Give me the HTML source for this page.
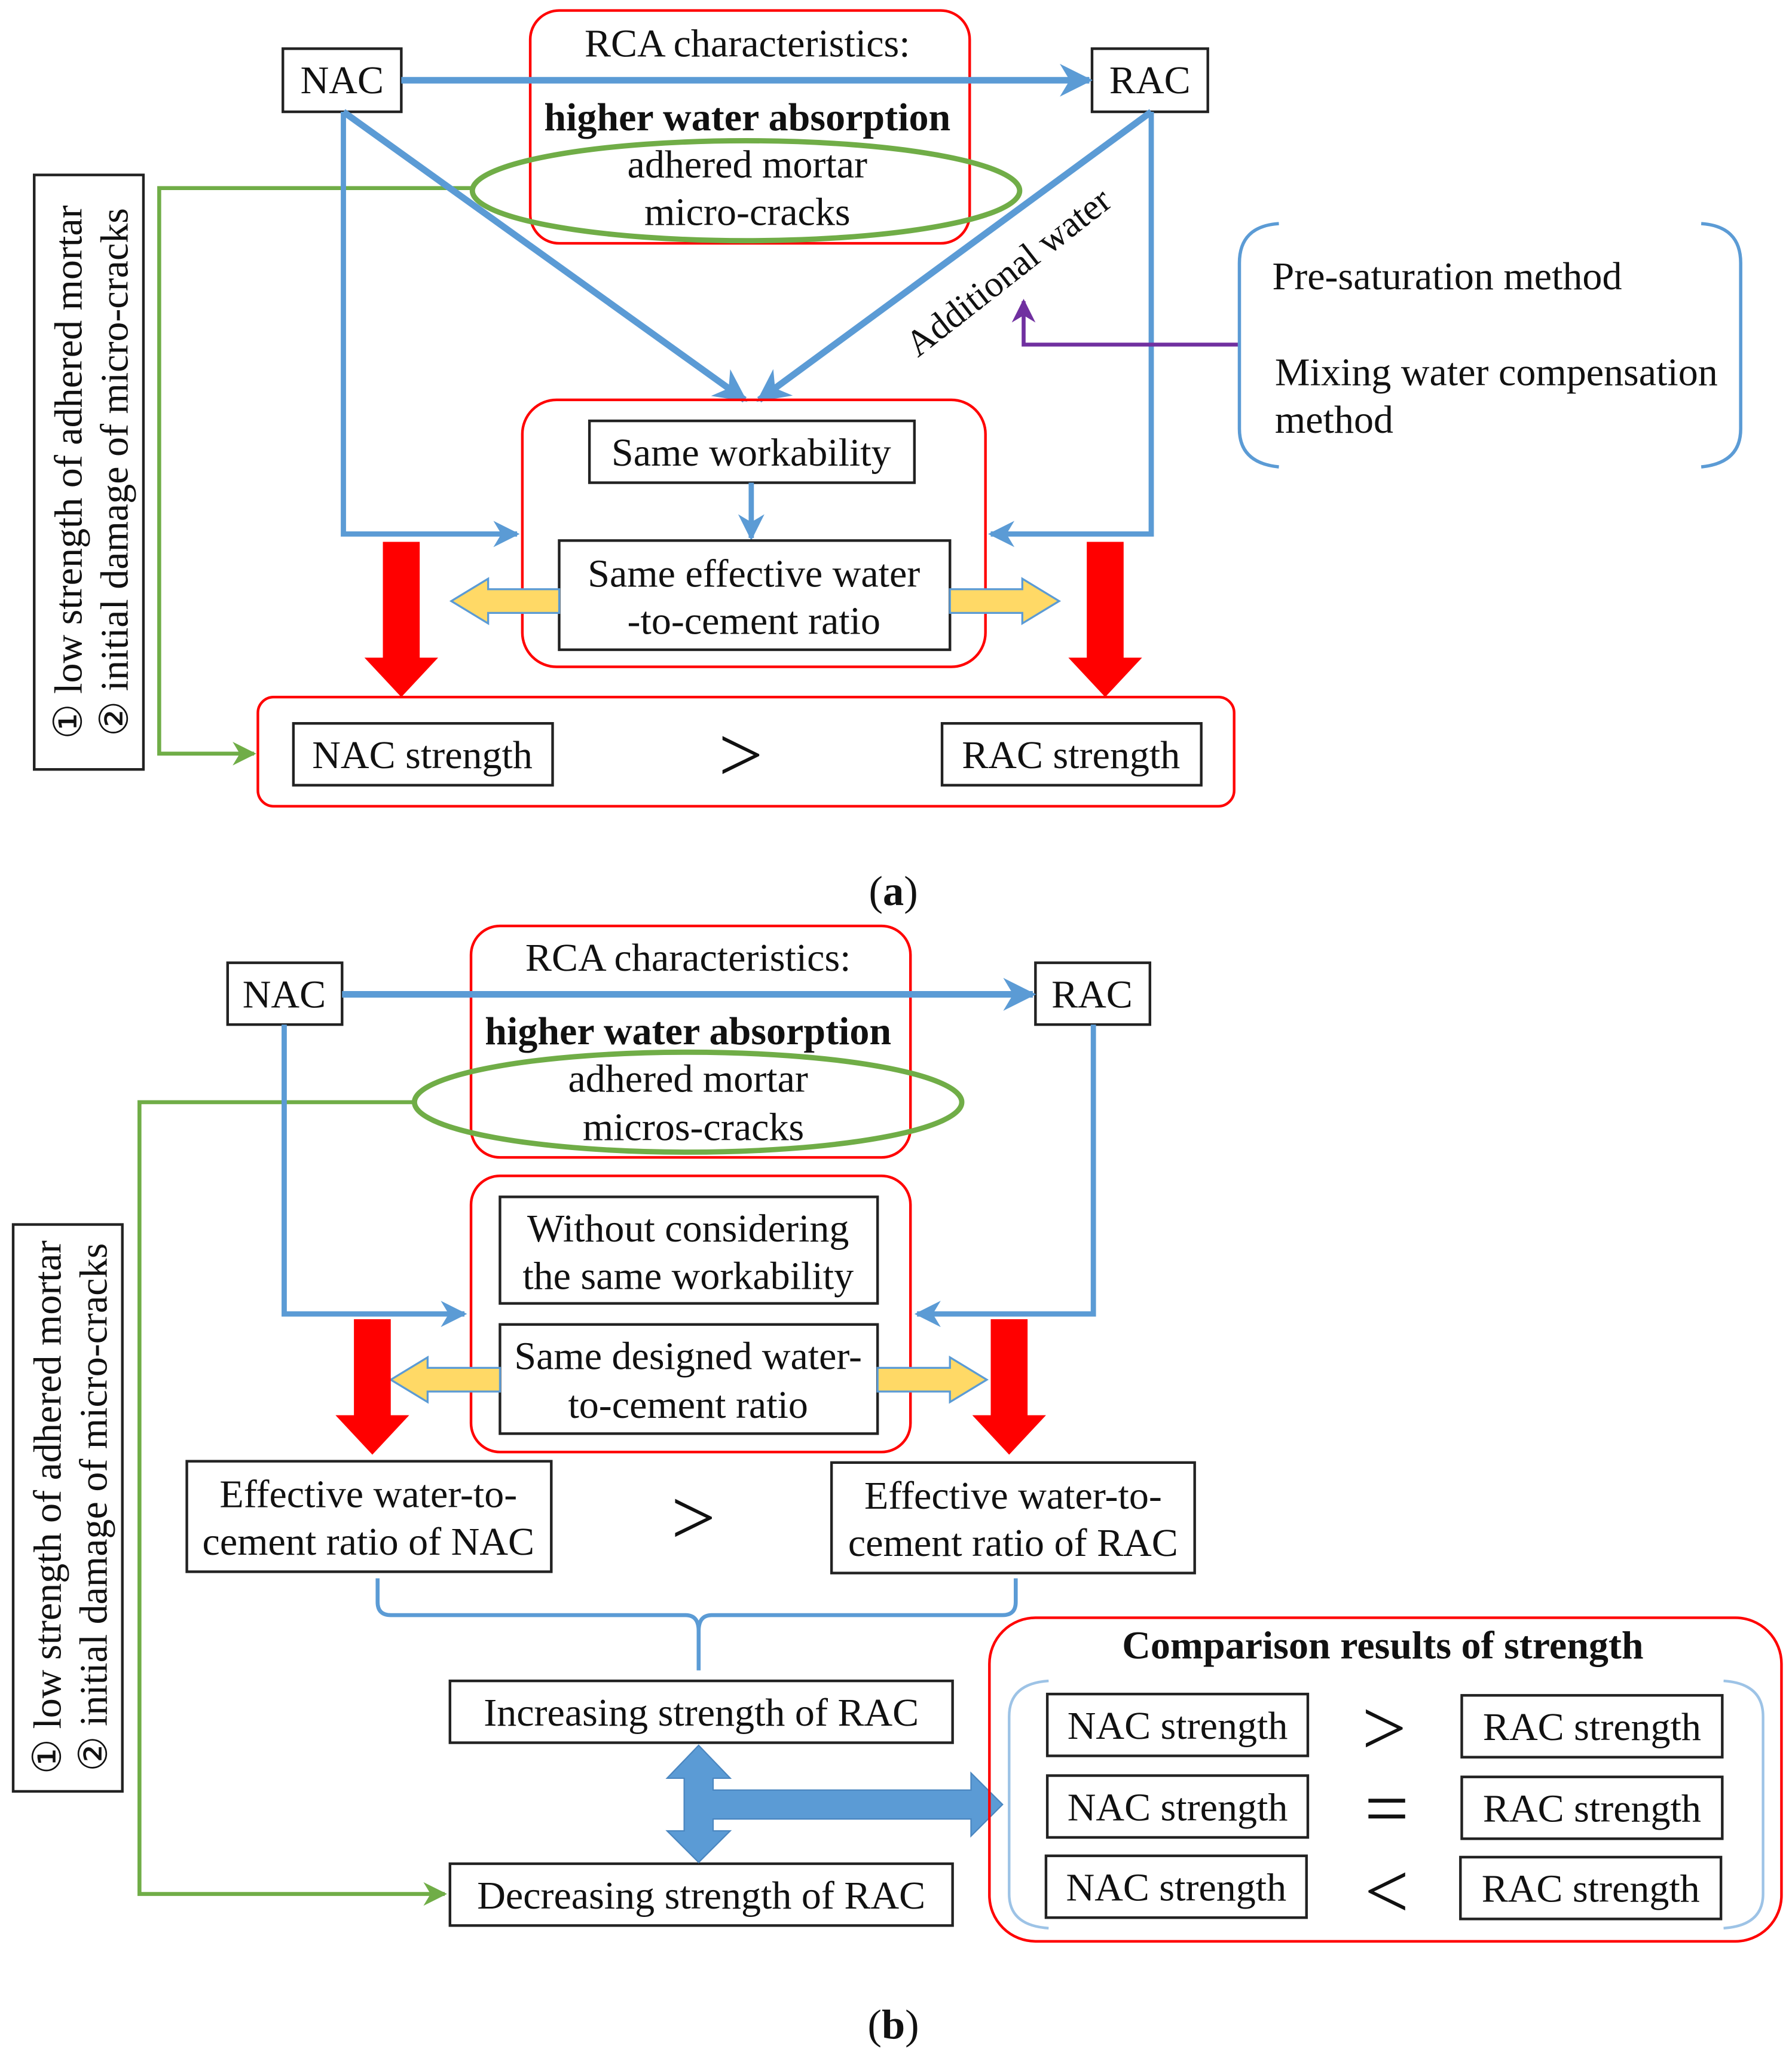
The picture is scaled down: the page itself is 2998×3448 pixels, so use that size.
<!DOCTYPE html>
<html><head><meta charset="utf-8"><style>
html,body{margin:0;padding:0;background:#fff;}
svg{display:block;}
text{font-family:"Liberation Serif",serif;fill:#111;}
</style></head><body>
<svg width="2998" height="3448" viewBox="0 0 1362 1567" preserveAspectRatio="none" xmlns="http://www.w3.org/2000/svg">
<defs>
<marker id="ab" viewBox="0 0 10 10" refX="9" refY="5" markerWidth="5" markerHeight="5" orient="auto"><path d="M0,0 L10,5 L0,10 L3,5 z" fill="#5b9bd5"/></marker>
<marker id="ag" viewBox="0 0 10 10" refX="9" refY="5" markerWidth="6" markerHeight="6" orient="auto"><path d="M0,0 L10,5 L0,10 L3,5 z" fill="#70ad47"/></marker>
<marker id="ap" viewBox="0 0 10 10" refX="9" refY="5" markerWidth="6" markerHeight="6" orient="auto"><path d="M0,0 L10,5 L0,10 L3,5 z" fill="#7030a0"/></marker>
</defs>
<g font-size="30" text-anchor="middle">
<!-- (a) -->
<rect x="403" y="8" width="334" height="177" rx="22" fill="none" stroke="#f00" stroke-width="2"/>
<rect x="215" y="37" width="90" height="48" fill="#fff" stroke="#222" stroke-width="2"/>
<text x="260" y="71">NAC</text>
<rect x="830" y="37" width="88" height="48" fill="#fff" stroke="#222" stroke-width="2"/>
<text x="874" y="71">RAC</text>
<line x1="305" y1="61" x2="828" y2="61" stroke="#5b9bd5" stroke-width="5" marker-end="url(#ab)"/>
<text x="568" y="43">RCA characteristics:</text>
<text x="568" y="99" font-weight="bold">higher water absorption</text>
<text x="568" y="135">adhered mortar</text>
<text x="568" y="171">micro-cracks</text>
<ellipse cx="567" cy="145" rx="208" ry="38" fill="none" stroke="#70ad47" stroke-width="4"/>
<polyline points="360,143 121,143 121,573 193,573" fill="none" stroke="#70ad47" stroke-width="3" marker-end="url(#ag)"/>
<rect x="26" y="133" width="83" height="452" fill="#fff" stroke="#222" stroke-width="2"/>
<text transform="translate(62,359) rotate(-90)" font-size="30">① low strength of adhered mortar</text>
<text transform="translate(97,359) rotate(-90)" font-size="30">② initial damage of micro-cracks</text>
<polyline points="261,85 261,406 393,406" fill="none" stroke="#5b9bd5" stroke-width="4" marker-end="url(#ab)"/>
<line x1="261" y1="85" x2="566" y2="304" stroke="#5b9bd5" stroke-width="5" marker-end="url(#ab)"/>
<line x1="875" y1="85" x2="577" y2="304" stroke="#5b9bd5" stroke-width="5" marker-end="url(#ab)"/>
<polyline points="875,85 875,406 753,406" fill="none" stroke="#5b9bd5" stroke-width="4" marker-end="url(#ab)"/>
<text transform="translate(772,214) rotate(-38)" font-size="28">Additional water</text>
<polyline points="942,262 778,262 778,229" fill="none" stroke="#7030a0" stroke-width="3" marker-end="url(#ap)"/>
<path d="M972,170 Q942,172 942,200 L942,326 Q942,352 972,355" fill="none" stroke="#5b9bd5" stroke-width="2.5"/>
<path d="M1293,170 Q1323,172 1323,200 L1323,326 Q1323,352 1293,355" fill="none" stroke="#5b9bd5" stroke-width="2.5"/>
<g text-anchor="start"><text x="967" y="220">Pre-saturation method</text>
<text x="969" y="293">Mixing water compensation</text>
<text x="969" y="329">method</text></g>
<rect x="397" y="304" width="352" height="203" rx="26" fill="none" stroke="#f00" stroke-width="2"/>
<rect x="448" y="320" width="247" height="47" fill="#fff" stroke="#222" stroke-width="2"/>
<text x="571" y="354">Same workability</text>
<line x1="571" y1="367" x2="571" y2="409" stroke="#5b9bd5" stroke-width="4" marker-end="url(#ab)"/>
<rect x="425" y="411" width="297" height="83" fill="#fff" stroke="#222" stroke-width="2"/>
<text x="573" y="446">Same effective water</text>
<text x="573" y="482">-to-cement ratio</text>
<path d="M425,448 L371,448 L371,440 L343,457 L371,474 L371,466 L425,466 Z" fill="#ffd966" stroke="#5b9bd5" stroke-width="1.5"/>
<path d="M722,448 L777,448 L777,440 L805,457 L777,474 L777,466 L722,466 Z" fill="#ffd966" stroke="#5b9bd5" stroke-width="1.5"/>
<path d="M291,412 L319,412 L319,500 L333,500 L305,530 L277,500 L291,500 Z" fill="#f00"/>
<path d="M826,412 L854,412 L854,500 L868,500 L840,530 L812,500 L826,500 Z" fill="#f00"/>
<rect x="196" y="530" width="742" height="83" rx="12" fill="none" stroke="#f00" stroke-width="2"/>
<rect x="223" y="550" width="197" height="47" fill="#fff" stroke="#222" stroke-width="2"/>
<text x="321" y="584">NAC strength</text>
<text x="563" y="594" font-size="60">&gt;</text>
<rect x="716" y="550" width="197" height="47" fill="#fff" stroke="#222" stroke-width="2"/>
<text x="814" y="584">RAC strength</text>
<text x="679" y="688" font-size="32">(<tspan font-weight="bold">a</tspan>)</text>

<!-- (b) -->
<rect x="358" y="704" width="334" height="176" rx="22" fill="none" stroke="#f00" stroke-width="2"/>
<rect x="173" y="732" width="87" height="47" fill="#fff" stroke="#222" stroke-width="2"/>
<text x="216" y="766">NAC</text>
<rect x="787" y="732" width="87" height="47" fill="#fff" stroke="#222" stroke-width="2"/>
<text x="830" y="766">RAC</text>
<line x1="260" y1="756" x2="785" y2="756" stroke="#5b9bd5" stroke-width="5" marker-end="url(#ab)"/>
<text x="523" y="738">RCA characteristics:</text>
<text x="523" y="794" font-weight="bold">higher water absorption</text>
<text x="523" y="830">adhered mortar</text>
<text x="527" y="867">micros-cracks</text>
<ellipse cx="523" cy="838" rx="208" ry="38" fill="none" stroke="#70ad47" stroke-width="4"/>
<polyline points="315,838 106,838 106,1440 338,1440" fill="none" stroke="#70ad47" stroke-width="3" marker-end="url(#ag)"/>
<rect x="10" y="931" width="83" height="431" fill="#fff" stroke="#222" stroke-width="2"/>
<text transform="translate(46,1146) rotate(-90)" font-size="30">① low strength of adhered mortar</text>
<text transform="translate(81,1146) rotate(-90)" font-size="30">② initial damage of micro-cracks</text>
<polyline points="216,779 216,999 353,999" fill="none" stroke="#5b9bd5" stroke-width="4" marker-end="url(#ab)"/>
<polyline points="831,779 831,999 697,999" fill="none" stroke="#5b9bd5" stroke-width="4" marker-end="url(#ab)"/>
<rect x="358" y="894" width="334" height="210" rx="22" fill="none" stroke="#f00" stroke-width="2"/>
<rect x="380" y="910" width="287" height="81" fill="#fff" stroke="#222" stroke-width="2"/>
<text x="523" y="944">Without considering</text>
<text x="523" y="980">the same workability</text>
<rect x="380" y="1007" width="287" height="83" fill="#fff" stroke="#222" stroke-width="2"/>
<text x="523" y="1041">Same designed water-</text>
<text x="523" y="1078">to-cement ratio</text>
<path d="M380,1040 L325,1040 L325,1032 L297,1049 L325,1066 L325,1058 L380,1058 Z" fill="#ffd966" stroke="#5b9bd5" stroke-width="1.5"/>
<path d="M667,1040 L722,1040 L722,1032 L750,1049 L722,1066 L722,1058 L667,1058 Z" fill="#ffd966" stroke="#5b9bd5" stroke-width="1.5"/>
<path d="M269,1003 L297,1003 L297,1076 L311,1076 L283,1106 L255,1076 L269,1076 Z" fill="#f00"/>
<path d="M753,1003 L781,1003 L781,1076 L795,1076 L767,1106 L739,1076 L753,1076 Z" fill="#f00"/>
<rect x="142" y="1111" width="277" height="84" fill="#fff" stroke="#222" stroke-width="2"/>
<text x="280" y="1146">Effective water-to-</text>
<text x="280" y="1182">cement ratio of NAC</text>
<text x="527" y="1174" font-size="60">&gt;</text>
<rect x="632" y="1112" width="276" height="84" fill="#fff" stroke="#222" stroke-width="2"/>
<text x="770" y="1147">Effective water-to-</text>
<text x="770" y="1183">cement ratio of RAC</text>
<path d="M287,1200 L287,1218 Q287,1228 297,1228 L521,1228 Q531,1228 531,1240 L531,1270 M531,1240 Q531,1228 541,1228 L762,1228 Q772,1228 772,1218 L772,1200" fill="none" stroke="#5b9bd5" stroke-width="3"/>
<rect x="342" y="1278" width="382" height="47" fill="#fff" stroke="#222" stroke-width="2"/>
<text x="533" y="1312">Increasing strength of RAC</text>
<rect x="342" y="1417" width="382" height="47" fill="#fff" stroke="#222" stroke-width="2"/>
<text x="533" y="1451">Decreasing strength of RAC</text>
<path d="M531,1327 L555,1352 L542,1352 L542,1361 L738,1361 L738,1348 L762,1372 L738,1396 L738,1383 L542,1383 L542,1392 L555,1392 L531,1416 L507,1392 L520,1392 L520,1352 L507,1352 Z" fill="#5b9bd5" stroke="#4a86c0" stroke-width="1"/>
<rect x="752" y="1230" width="602" height="246" rx="35" fill="none" stroke="#f00" stroke-width="2"/>
<text x="1051" y="1261" font-weight="bold">Comparison results of strength</text>
<path d="M797,1278 Q767,1280 767,1305 L767,1440 Q767,1464 797,1466" fill="none" stroke="#9dc3e6" stroke-width="2"/>
<path d="M1310,1278 Q1340,1280 1340,1305 L1340,1440 Q1340,1464 1310,1466" fill="none" stroke="#9dc3e6" stroke-width="2"/>
<rect x="796" y="1288" width="198" height="47" fill="#fff" stroke="#222" stroke-width="2"/>
<text x="895" y="1322">NAC strength</text>
<rect x="796" y="1350" width="198" height="47" fill="#fff" stroke="#222" stroke-width="2"/>
<text x="895" y="1384">NAC strength</text>
<rect x="795" y="1411" width="198" height="47" fill="#fff" stroke="#222" stroke-width="2"/>
<text x="894" y="1445">NAC strength</text>
<rect x="1111" y="1289" width="198" height="47" fill="#fff" stroke="#222" stroke-width="2"/>
<text x="1210" y="1323">RAC strength</text>
<rect x="1111" y="1351" width="198" height="47" fill="#fff" stroke="#222" stroke-width="2"/>
<text x="1210" y="1385">RAC strength</text>
<rect x="1110" y="1412" width="198" height="47" fill="#fff" stroke="#222" stroke-width="2"/>
<text x="1209" y="1446">RAC strength</text>
<text x="1052" y="1334" font-size="60">&gt;</text>
<text x="1054" y="1395" font-size="60">=</text>
<text x="1054" y="1458" font-size="60">&lt;</text>
<text x="679" y="1550" font-size="32">(<tspan font-weight="bold">b</tspan>)</text>
</g>
</svg>
</body></html>
